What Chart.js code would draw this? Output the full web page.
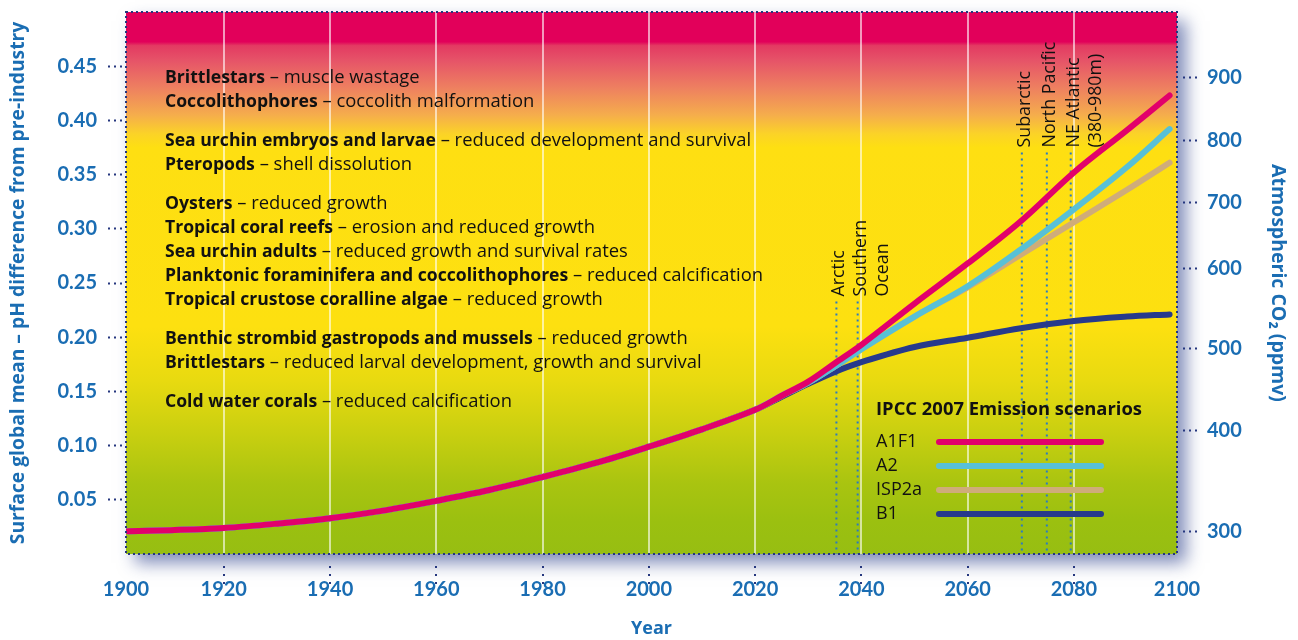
<!DOCTYPE html>
<html>
<head>
<meta charset="utf-8">
<script src="https://cdn.jsdelivr.net/npm/chart.js@4.4.1/dist/chart.umd.min.js"></script>
<style>
html,body{margin:0;padding:0;background:#fff;}
#wrap{width:1298px;height:640px;position:relative;}
</style>
</head>
<body>
<div id="wrap"><canvas id="c" width="1298" height="640"></canvas></div>
<script>
// ---------------- data ----------------
const years  = [1902,1910,1920,1930,1940,1950,1960,1970,1980,1990,2000,2010,2020,2025,2030,2035,2040,2050,2060,2070,2080,2090,2098];
const a1f1   = [0.021,0.022,0.024,0.028,0.033,0.040,0.049,0.059,0.071,0.084,0.099,0.115,0.133,0.146,0.159,0.176,0.193,0.231,0.268,0.307,0.352,0.391,0.423];
const a2     = [0.021,0.022,0.024,0.028,0.033,0.040,0.049,0.059,0.071,0.084,0.099,0.115,0.133,0.146,0.158,0.173,0.189,0.219,0.247,0.281,0.318,0.357,0.392];
const isp2a  = [0.021,0.022,0.024,0.028,0.033,0.040,0.049,0.059,0.071,0.084,0.099,0.115,0.133,0.146,0.158,0.173,0.189,0.219,0.246,0.276,0.306,0.336,0.361];
const b1     = [0.021,0.022,0.024,0.028,0.033,0.040,0.049,0.059,0.071,0.084,0.099,0.115,0.133,0.145,0.157,0.168,0.177,0.191,0.1995,0.2083,0.2150,0.2190,0.2210];
const seriesNames = ['A1F1','A2','ISP2a','B1'];
const seriesColors = ['#e2006b','#58c0d6','#cfac7a','#273a8c'];

const xTickLabels = ['1900','1920','1940','1960','1980','2000','2020','2040','2060','2080','2100'];
const xTickYears  = [1920,1940,1960,1980,2000,2020,2040,2060,2080];
const phTicks = [0.05,0.10,0.15,0.20,0.25,0.30,0.35,0.40,0.45];
const co2TickLabels = ['300','400','500','600','700','800','900'];
const co2TickPh     = [0.0205,0.1138,0.1899,0.2637,0.3239,0.3812,0.4395];

const regionNames = [['Arctic'],['Southern','Ocean'],['Subarctic'],['North Pacific'],['NE Atlantic','(380-980m)']];
const regionYears = [2035.3,2039.3,2070.2,2074.9,2079.4];
const regionTopPh = [0.2375,0.2375,0.375,0.375,0.375];

const impacts = [
 ['Brittlestars',' \u2013 muscle wastage'],
 ['Coccolithophores',' \u2013 coccolith malformation'],
 null,
 ['Sea urchin embryos and larvae',' \u2013 reduced development and survival'],
 ['Pteropods',' \u2013 shell dissolution'],
 null,
 ['Oysters',' \u2013 reduced growth'],
 ['Tropical coral reefs',' \u2013 erosion and reduced growth'],
 ['Sea urchin adults',' \u2013 reduced growth and survival rates'],
 ['Planktonic foraminifera and coccolithophores',' \u2013 reduced calcification'],
 ['Tropical crustose coralline algae',' \u2013 reduced growth'],
 null,
 ['Benthic strombid gastropods and mussels',' \u2013 reduced growth'],
 ['Brittlestars',' \u2013 reduced larval development, growth and survival'],
 null,
 ['Cold water corals',' \u2013 reduced calcification']
];

// ---------------- style ----------------
const BLUE = '#1a6db3';
const NAVY = '#25367e';
const FONT = 'Lato, "Open Sans", sans-serif';
const TFONT = '"Open Sans", Lato, sans-serif';

const seriesData = [a1f1,a2,isp2a,b1];
const datasets = seriesNames.map((n,i)=>({
  label:n,
  data: years.map((y,j)=>({x:y,y:seriesData[i][j]})),
  borderColor: seriesColors[i],
  borderWidth: 6,
  borderCapStyle:'round',
  borderJoinStyle:'round',
  pointRadius:0,
  tension:0.35,
  fill:false
}));

const bgPlugin = {
  id:'bg',
  beforeDraw(chart){
    const {ctx, chartArea:a} = chart;
    ctx.save();
    ctx.shadowColor='rgba(45,65,140,0.6)';
    ctx.shadowBlur=16; ctx.shadowOffsetX=9; ctx.shadowOffsetY=9;
    ctx.fillStyle='#ffffff';
    ctx.fillRect(a.left,a.top,a.right-a.left,a.bottom-a.top);
    ctx.restore();
    ctx.save();
    const h=a.bottom-a.top;
    const g=ctx.createLinearGradient(0,a.top,0,a.bottom);
    const stops=[[0,'#e2005a'],[0.055,'#e2005a'],[0.062,'#e33a62'],[0.09,'#e65468'],[0.14,'#ee8060'],[0.19,'#f5ad4c'],[0.225,'#fbd327'],[0.25,'#fedf12'],[0.58,'#fde010'],[0.68,'#e8da10'],[0.78,'#c8cf10'],[0.87,'#a9c410'],[0.94,'#9bc010'],[1,'#97be12']];
    stops.forEach(s=>g.addColorStop(s[0],s[1]));
    ctx.fillStyle=g;
    ctx.fillRect(a.left,a.top,a.right-a.left,h);
    ctx.restore();
  },
  beforeDatasetsDraw(chart){
    const {ctx, chartArea:a, scales:{x,y}} = chart;
    ctx.save();
    let yy = a.top + 66;
    ctx.textBaseline='middle';
    ctx.fillStyle='#111';
    impacts.forEach(row=>{
      if(!row){ yy += 15; return; }
      ctx.font='bold 17.6px '+TFONT;
      ctx.fillText(row[0], a.left+39, yy);
      const w=ctx.measureText(row[0]).width;
      ctx.font='18.4px '+TFONT;
      ctx.fillText(row[1], a.left+39+w, yy);
      yy += 24;
    });
    regionYears.forEach((yr,i)=>{
      const px = x.getPixelForValue(yr);
      const top = y.getPixelForValue(regionTopPh[i]);
      ctx.strokeStyle='#2a7ac4';
      ctx.lineWidth=2;
      ctx.setLineDash([2,4]);
      ctx.beginPath(); ctx.moveTo(px,top+5); ctx.lineTo(px,a.bottom); ctx.stroke();
      ctx.setLineDash([]);
      ctx.save();
      ctx.translate(px,top);
      ctx.rotate(-Math.PI/2);
      ctx.font='17.8px '+TFONT;
      ctx.fillStyle='#111';
      ctx.textBaseline='alphabetic';
      ctx.textAlign='left';
      regionNames[i].forEach((t,k)=>ctx.fillText(t,0,8+k*22));
      ctx.restore();
    });
    ctx.restore();
  },
  afterDatasetsDraw(chart){
    const {ctx, chartArea:a} = chart;
    ctx.save();
    const lx = a.left + 750, ly = a.top + 398;
    ctx.fillStyle='#111';
    ctx.textBaseline='middle';
    ctx.font='bold 18.4px '+TFONT;
    ctx.fillText('IPCC 2007 Emission scenarios', lx, ly);
    chart.data.datasets.forEach((d,i)=>{
      const cy = ly + 32 + i*24;
      ctx.font='18px '+TFONT;
      ctx.fillStyle='#111';
      ctx.fillText(d.label, lx, cy);
      ctx.strokeStyle=d.borderColor;
      ctx.lineWidth=6; ctx.lineCap='round';
      ctx.beginPath(); ctx.moveTo(lx+63,cy); ctx.lineTo(lx+225,cy); ctx.stroke();
    });
    ctx.strokeStyle=NAVY; ctx.lineWidth=2; ctx.lineCap='butt';
    ctx.setLineDash([2,3]);
    ctx.strokeRect(a.left,a.top,a.right-a.left,a.bottom-a.top);
    ctx.restore();
  }
};

function noVPad(s){ s.paddingTop=0; s.paddingBottom=0; }

new Chart(document.getElementById('c'),{
  type:'line',
  data:{datasets},
  plugins:[bgPlugin],
  options:{
    responsive:false,
    animation:false,
    devicePixelRatio:1,
    layout:{padding:{top:12,left:0,right:0,bottom:0}},
    plugins:{legend:{display:false},tooltip:{enabled:false}},
    scales:{
      x:{
        type:'linear', min:1901.6, max:2099.4,
        afterFit(s){ s.height=86; s.paddingLeft=0; s.paddingRight=0; },
        afterBuildTicks(s){ s.ticks=[s.min, ...xTickYears, s.max].map(v=>({value:v})); },
        border:{display:false},
        grid:{
          color:(c)=> (c.tick && xTickYears.includes(c.tick.value)) ? 'rgba(255,255,255,0.6)' : 'rgba(0,0,0,0)',
          lineWidth:2,
          tickColor:(c)=> (c.tick && xTickYears.includes(c.tick.value)) ? NAVY : 'rgba(0,0,0,0)',
          tickLength:30, tickWidth:2,
          tickBorderDash:[0,12,2,6,2,6,2,6]
        },
        ticks:{
          autoSkip:false, maxRotation:0, padding:-6,
          color:BLUE, font:{family:FONT,size:20,weight:'bold'},
          callback:(v,i)=>xTickLabels[i]
        },
        title:{display:true,text:'Year',color:BLUE,font:{family:TFONT,size:18,weight:'bold'},padding:{top:0,bottom:0}}
      },
      y:{
        position:'left', min:0, max:0.5,
        afterFit(s){ s.width=126; noVPad(s); },
        afterBuildTicks(s){ s.ticks=phTicks.map(v=>({value:v})); },
        border:{display:false},
        grid:{drawOnChartArea:false,tickLength:18,tickWidth:2,tickColor:NAVY,tickBorderDash:[2,4]},
        ticks:{padding:11,color:BLUE,font:{family:FONT,size:20,weight:'bold'},callback:(v)=>v.toFixed(2)},
        title:{display:true,text:'Surface global mean \u2013 pH difference from pre-industry',color:BLUE,font:{family:TFONT,size:19.3,weight:'bold'},padding:{top:7,bottom:0}}
      },
      y2:{
        position:'right', min:0, max:0.5,
        afterFit(s){ s.width=121; noVPad(s); },
        afterBuildTicks(s){ s.ticks=co2TickPh.map(v=>({value:v})); },
        border:{display:false},
        grid:{drawOnChartArea:false,tickLength:24,tickWidth:2,tickColor:NAVY,tickBorderDash:[0,6,2,4,2,4,2,4]},
        ticks:{padding:6,color:BLUE,font:{family:FONT,size:20,weight:'bold'},callback:(v,i)=>co2TickLabels[i]},
        title:{display:true,text:'Atmospheric CO\u2082 (ppmv)',color:BLUE,font:{family:TFONT,size:19.5,weight:'bold'},padding:{top:9,bottom:0}}
      }
    }
  }
});
</script>
</body>
</html>
